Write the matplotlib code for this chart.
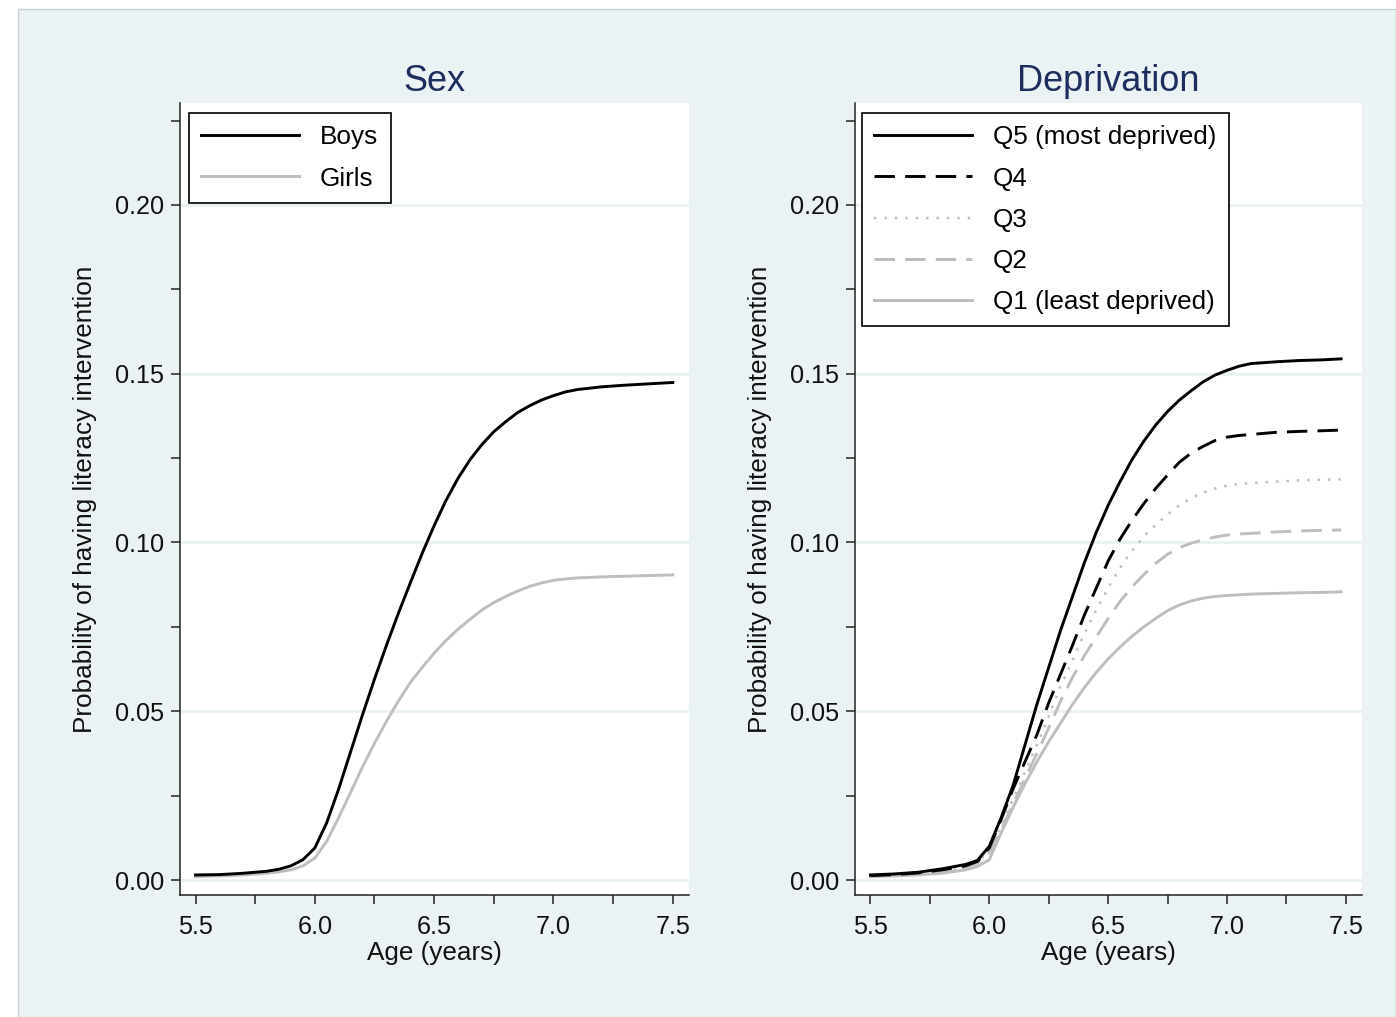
import matplotlib
matplotlib.use("Agg")
import matplotlib.pyplot as plt
from matplotlib.patches import Rectangle
import numpy as np

plt.rcParams['font.family'] = ['Liberation Sans', 'DejaVu Sans']

# ---------------- data ----------------
sex_age = [5.50, 5.60, 5.70, 5.80, 5.85, 5.90, 5.95, 6.00, 6.05, 6.10, 6.15, 6.20, 6.25,
           6.30, 6.35, 6.40, 6.45, 6.50, 6.55, 6.60, 6.65, 6.70, 6.75, 6.80, 6.85, 6.90,
           6.95, 7.00, 7.05, 7.10, 7.20, 7.30, 7.40, 7.50]
boys = [0.0015, 0.0016, 0.0020, 0.0026, 0.0032, 0.0042, 0.0060, 0.0095, 0.0170, 0.0270,
        0.0380, 0.0490, 0.0595, 0.0695, 0.0790, 0.0880, 0.0968, 0.1050, 0.1125, 0.1190,
        0.1245, 0.1290, 0.1328, 0.1358, 0.1385, 0.1405, 0.1422, 0.1435, 0.1446, 0.1453,
        0.1461, 0.1466, 0.1470, 0.1474]
girls = [0.0010, 0.0012, 0.0015, 0.0020, 0.0024, 0.0030, 0.0042, 0.0065, 0.0115, 0.0185,
         0.0260, 0.0335, 0.0405, 0.0470, 0.0530, 0.0585, 0.0630, 0.0672, 0.0710, 0.0743,
         0.0772, 0.0800, 0.0822, 0.0840, 0.0856, 0.0870, 0.0880, 0.0888, 0.0892, 0.0895,
         0.0898, 0.0900, 0.0902, 0.0904]

dep_age = [5.50, 5.60, 5.70, 5.80, 5.90, 5.95, 6.00, 6.05, 6.10, 6.15, 6.20, 6.25, 6.30,
           6.35, 6.40, 6.45, 6.50, 6.55, 6.60, 6.65, 6.70, 6.75, 6.80, 6.85, 6.90, 6.95,
           7.00, 7.05, 7.10, 7.20, 7.30, 7.40, 7.48]
q5 = [0.0015, 0.0018, 0.0023, 0.0033, 0.0046, 0.0058, 0.0100, 0.0185, 0.0280, 0.0400,
      0.0520, 0.0630, 0.0740, 0.0840, 0.0940, 0.1030, 0.1110, 0.1180, 0.1245, 0.1300,
      0.1348, 0.1388, 0.1422, 0.1450, 0.1476, 0.1496, 0.1510, 0.1522, 0.1530, 0.1535,
      0.1539, 0.1541, 0.1544]
q4 = [0.0013, 0.0016, 0.0021, 0.0030, 0.0042, 0.0055, 0.0095, 0.0180, 0.0270, 0.0350,
      0.0430, 0.0525, 0.0610, 0.0695, 0.0785, 0.0865, 0.0945, 0.1010, 0.1065, 0.1115,
      0.1160, 0.1200, 0.1238, 0.1265, 0.1285, 0.1302, 0.1312, 0.1317, 0.1320, 0.1326,
      0.1329, 0.1331, 0.1333]
q3 = [0.0012, 0.0015, 0.0019, 0.0027, 0.0040, 0.0052, 0.0085, 0.0160, 0.0240, 0.0320,
      0.0400, 0.0485, 0.0575, 0.0650, 0.0730, 0.0800, 0.0865, 0.0925, 0.0975, 0.1018,
      0.1052, 0.1083, 0.1110, 0.1132, 0.1148, 0.1160, 0.1168, 0.1173, 0.1176, 0.1180,
      0.1184, 0.1186, 0.1187]
q2 = [0.0012, 0.0015, 0.0018, 0.0025, 0.0037, 0.0050, 0.0080, 0.0150, 0.0225, 0.0300,
      0.0375, 0.0450, 0.0530, 0.0600, 0.0665, 0.0720, 0.0775, 0.0825, 0.0868, 0.0905,
      0.0938, 0.0965, 0.0985, 0.0998, 0.1008, 0.1016, 0.1022, 0.1025, 0.1027, 0.1031,
      0.1034, 0.1036, 0.1037]
q1 = [0.0010, 0.0012, 0.0015, 0.0020, 0.0030, 0.0040, 0.0060, 0.0140, 0.0215, 0.0285,
      0.0350, 0.0410, 0.0465, 0.0520, 0.0570, 0.0615, 0.0655, 0.0690, 0.0722, 0.0750,
      0.0775, 0.0798, 0.0815, 0.0827, 0.0835, 0.0840, 0.0843, 0.0845, 0.0847, 0.0849,
      0.0851, 0.0852, 0.0854]

panel_titles = ["Sex", "Deprivation"]
sex_labels = ["Boys", "Girls"]
dep_labels = ["Q5 (most deprived)", "Q4", "Q3", "Q2", "Q1 (least deprived)"]
yticks = [0.00, 0.05, 0.10, 0.15, 0.20]
xticks = [5.5, 6.0, 6.5, 7.0, 7.5]

# ---------------- style ----------------
BG = '#EAF2F3'
GRAY = '#BEBEBE'
TITLE_C = '#1C2D5E'
W, H = 1396, 1017

fig = plt.figure(figsize=(W / 100, H / 100), dpi=100, facecolor='white')
fig.patches.append(Rectangle((18 / W, 0), 1 - 18 / W, 1 - 9 / H, transform=fig.transFigure,
                             facecolor=BG, edgecolor='#C9D1D4', lw=1.0, zorder=-10))

def fx(px):
    return px / W

def fy(py):
    return 1 - py / H

ax1 = fig.add_axes([fx(180), fy(895), (689 - 180) / W, (895 - 103) / H])
ax2 = fig.add_axes([fx(855), fy(895), (1362 - 855) / W, (895 - 103) / H])

lw = 2.1
ax1.plot(sex_age, boys, color='black', lw=lw, label=sex_labels[0], zorder=3)
ax1.plot(sex_age, girls, color=GRAY, lw=lw, label=sex_labels[1], zorder=2)

ax2.plot(dep_age, q5, color='black', lw=lw, label=dep_labels[0], zorder=6)
ax2.plot(dep_age, q4, color='black', lw=lw, dashes=(7, 3.5), label=dep_labels[1], zorder=5)
ax2.plot(dep_age, q3, color=GRAY, lw=lw * 0.85, dashes=(1.0, 3.2), label=dep_labels[2], zorder=4)
ax2.plot(dep_age, q2, color=GRAY, lw=lw, dashes=(7, 3.5), label=dep_labels[3], zorder=3)
ax2.plot(dep_age, q1, color=GRAY, lw=lw, label=dep_labels[4], zorder=2)

FS = 18.8
for ax, title in zip([ax1, ax2], panel_titles):
    ax.set_facecolor('white')
    ax.set_xlim(5.435, 7.568)
    ax.set_ylim(-0.00444, 0.2302)
    for s in ['top', 'right']:
        ax.spines[s].set_visible(False)
    for s in ['left', 'bottom']:
        ax.spines[s].set_linewidth(1.1)
        ax.spines[s].set_color('#222222')
    ax.set_yticks(yticks)
    ax.set_yticklabels([f"{v:.2f}" for v in yticks])
    ax.set_yticks(np.arange(0.025, 0.23, 0.05), minor=True)
    ax.set_xticks(xticks)
    ax.set_xticklabels([f"{v:.1f}" for v in xticks])
    ax.set_xticks([5.75, 6.25, 6.75, 7.25], minor=True)
    ax.tick_params(which='both', direction='out', length=6.5, width=1.1, color='#222222',
                   labelsize=18.2, labelcolor='#111111')
    ax.tick_params(axis='x', pad=8)
    ax.tick_params(axis='y', pad=5)
    ax.grid(axis='y', which='major', color=BG, lw=2.2, zorder=0)
    ax.set_axisbelow(True)
    ax.set_title(title, fontsize=26, color=TITLE_C, pad=9)
    ax.set_xlabel("Age (years)", fontsize=FS, color='#111111', labelpad=1)
    ax.set_ylabel("Probability of having literacy intervention", fontsize=FS, color='#111111')
    ax.yaxis.set_label_coords(-0.163, 0.5)

leg_kw = dict(loc='upper left', fontsize=FS, frameon=True, fancybox=False, shadow=False,
              handlelength=3.75, handletextpad=0.8, labelspacing=0.66, borderpad=0.47,
              borderaxespad=0.0)
l1 = ax1.legend(bbox_to_anchor=(9 / 509, 1 - 10 / 792), **leg_kw)
l2 = ax2.legend(bbox_to_anchor=(7 / 507, 1 - 10 / 792), **leg_kw)
for lg in (l1, l2):
    fr = lg.get_frame()
    fr.set_edgecolor('black')
    fr.set_linewidth(1.2)
    fr.set_facecolor('white')
    fr.set_alpha(1)

fig.savefig("out.png", dpi=100, facecolor=fig.get_facecolor())
